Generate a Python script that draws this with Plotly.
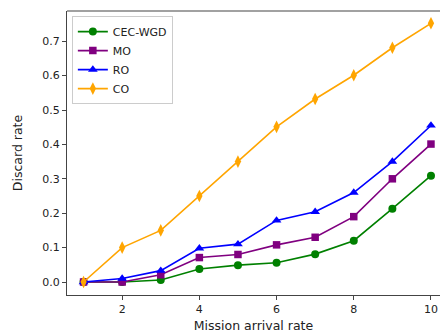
import plotly.graph_objects as go

x_vals = [1, 2, 3, 4, 5, 6, 7, 8, 9, 10]
cec_wgd = [0.0, 0.0, 0.006, 0.038, 0.049, 0.056, 0.081, 0.12, 0.213, 0.309]
mo = [0.0, 0.0, 0.021, 0.071, 0.08, 0.108, 0.13, 0.19, 0.30, 0.401]
ro = [0.0, 0.01, 0.033, 0.098, 0.11, 0.179, 0.204, 0.26, 0.35, 0.455]
co = [0.0, 0.10, 0.15, 0.25, 0.35, 0.451, 0.532, 0.601, 0.681, 0.752]

series = [
    ("CEC-WGD", cec_wgd, "#008000", "circle", 8),
    ("MO", mo, "#800080", "square", 7.5),
    ("RO", ro, "#0000ff", "triangle-up", 8.5),
    ("CO", co, "#ffa500", "diamond-tall", 9),
]

fig = go.Figure()
for name, ys, color, sym, sz in series:
    fig.add_trace(go.Scatter(
        x=x_vals, y=ys, name=name, mode="lines+markers",
        line=dict(color=color, width=1.6),
        marker=dict(symbol=sym, size=sz, color=color, line=dict(width=0)),
    ))

fig.update_layout(
    width=440, height=336,
    margin=dict(l=67, r=0, t=11, b=41, autoexpand=False),
    paper_bgcolor="white", plot_bgcolor="white",
    font=dict(family="DejaVu Sans", size=11, color="#222"),
    showlegend=True,
    legend=dict(
        x=0.013, y=0.982, xanchor="left", yanchor="top",
        bgcolor="white", bordercolor="#cccccc", borderwidth=1,
        font=dict(size=11, color="#222"),
        tracegroupgap=0, itemwidth=30,
    ),
    xaxis=dict(
        range=[0.571, 10.234], tickvals=[2, 4, 6, 8, 10],
        showgrid=False, zeroline=False, automargin=False,
        showline=True, linecolor="#444", linewidth=1.2,
        ticks="outside", ticklen=4, tickcolor="#444",
        title=dict(text="Mission arrival rate", font=dict(size=12.5), standoff=5),
    ),
    yaxis=dict(
        range=[-0.0378, 0.7878], tickvals=[0, 0.1, 0.2, 0.3, 0.4, 0.5, 0.6, 0.7],
        tickformat=".1f", automargin=False,
        showgrid=False, zeroline=False,
        showline=True, linecolor="#444", linewidth=1.2,
        ticks="outside", ticklen=4, tickcolor="#444",
        title=dict(text="Discard rate", font=dict(size=12.5), standoff=16),
    ),
    shapes=[dict(type="line", xref="paper", yref="paper", x0=0, x1=1, y0=1, y1=1,
                 line=dict(color="#444", width=1.2))],
)

fig.write_html(
    "out.html",
    config={"displayModeBar": False},
    post_script="document.body.style.margin='0';"
                "document.documentElement.style.overflow='hidden';"
                "document.body.style.overflow='hidden';",
)
